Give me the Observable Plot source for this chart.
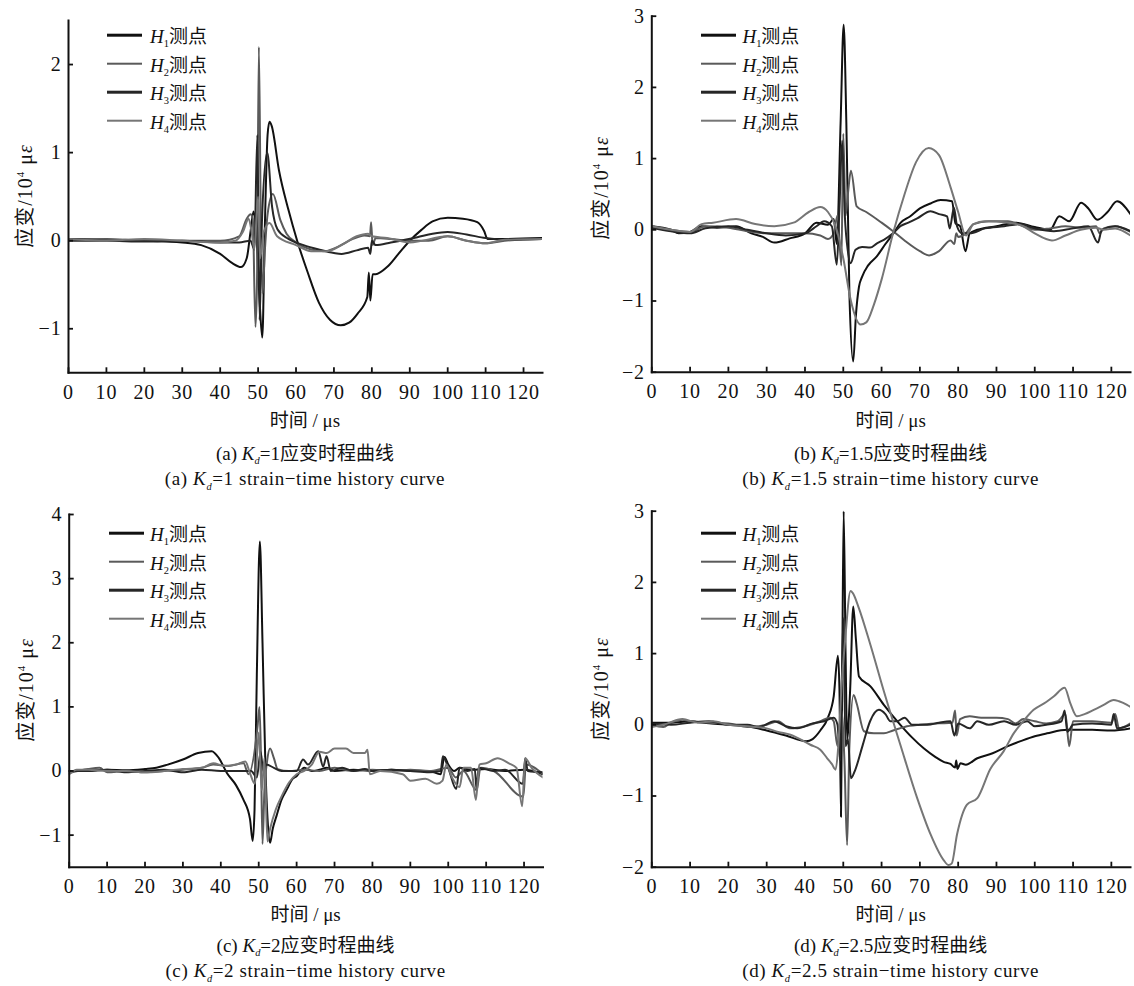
<!DOCTYPE html>
<html><head><meta charset="utf-8">
<script src="https://cdn.jsdelivr.net/npm/d3@7"></script>
<script src="https://cdn.jsdelivr.net/npm/@observablehq/plot@0.6"></script>
<style>
body{margin:0;background:#fff;}
#root{position:relative;width:1134px;height:986px;overflow:hidden;font-family:"Liberation Serif","Noto Sans CJK SC",serif;color:#111;}
.panel{position:absolute;}
.txt{position:absolute;transform:translate(-50%,-50%);white-space:nowrap;font-size:19px;}
.ylab{position:absolute;white-space:nowrap;transform:translate(-50%,-50%) rotate(-90deg);font-size:20px;letter-spacing:1px;}
.leg-line{position:absolute;height:2.6px;transform:translateY(-50%);}
.leg-text{position:absolute;transform:translateY(-50%);font-size:19px;white-space:nowrap;}
sub{font-size:0.55em;vertical-align:-0.4em;}
sup{font-size:0.55em;vertical-align:0.7em;}
</style></head><body><div id="root"></div>
<script>
// ---------- data ----------
const xTicks = [0,10,20,30,40,50,60,70,80,90,100,110,120];
const xDomain = [0,125];
const seriesNames = ["H1","H2","H3","H4"];
const seriesColors = ["#111111","#5a5a5a","#262626","#767676"];

// (a) Kd = 1
const yDomA = [-1.5,2.5], yTicksA = [-1,0,1,2];
const a_H1 = [[0,0.02],[10,0.01],[20,0.0],[30,-0.02],[35,-0.05],[40,-0.15],[43,-0.25],[45.5,-0.3],[47,-0.2],[48,0.1],[48.8,0.33],[49.5,0.1],[50.3,-0.6],[51.1,-1.1],[51.8,0.2],[52.5,1.2],[53,1.35],[53.6,1.3],[55.5,0.8],[58,0.35],[60.3,0],[63,-0.35],[66,-0.7],[69,-0.9],[71.8,-0.96],[74,-0.93],[76.2,-0.83],[78.8,-0.64],[79.2,-0.36],[79.6,-0.68],[80.2,-0.38],[81,-0.38],[84,-0.3],[87,-0.15],[90,0],[93,0.12],[96,0.22],[100,0.26],[104,0.25],[107.8,0.21],[109.6,0.11],[110.5,0.02],[115,0.02],[125,0.03]];
const a_H2 = [[0,0.01],[10,0.02],[20,0.0],[30,0.0],[40,0.0],[45,0.05],[47,0.25],[48,0.3],[48.6,0.25],[49.3,-0.98],[49.7,-0.5],[50.2,2.2],[50.7,0.3],[51.2,-0.6],[51.8,-0.1],[52.5,0.3],[53.9,0.53],[55.9,0.23],[57.5,0.08],[60,-0.02],[64,-0.1],[67.5,-0.12],[71,-0.07],[75,0.02],[78,0.06],[79.5,0.05],[79.8,0.21],[80.2,-0.05],[81,0.03],[85,0.02],[90,0.0],[95,0.0],[100,0.05],[105,0.0],[110,-0.03],[115,0.0],[125,0.02]];
const a_H3 = [[0,0.0],[10,0.0],[20,-0.01],[30,0],[40,-0.02],[45,-0.02],[48,0.0],[49,-0.1],[49.8,1.2],[50.4,-0.9],[51,0.2],[52.4,1.0],[53.7,0.38],[55.1,0.13],[58,0.02],[62,-0.05],[66,-0.1],[70,-0.14],[72,-0.15],[76,-0.11],[79,-0.08],[79.6,-0.15],[80,0.0],[81,-0.05],[85,-0.02],[92,0.04],[96,0.08],[100,0.1],[105,0.07],[110,0.03],[115,0.01],[125,0.02]];
const a_H4 = [[0,0.02],[10,0.0],[20,0.02],[30,0.0],[40,-0.02],[44,0.0],[46,0.1],[47.5,0.25],[48.3,0.1],[49,-0.1],[50,0.5],[50.5,-0.2],[51.5,0.1],[53,0.2],[55,0.05],[60,-0.05],[64,-0.12],[68,-0.12],[72,-0.05],[76,0.05],[79,0.08],[80,0.05],[84,0.03],[90,-0.02],[100,0.05],[105,0.0],[110,-0.03],[115,0.01],[125,0.02]];

// (b) Kd = 1.5
const yDomB = [-2,3], yTicksB = [-2,-1,0,1,2,3];
const b_H1 = [[0,0.05],[5,0.0],[7,-0.05],[10,-0.03],[13,0.05],[17,0.03],[22,0.05],[26,-0.05],[29,-0.1],[32,-0.18],[36,-0.12],[40,-0.05],[43,0.1],[46,0.07],[47.5,0.15],[48.3,-0.2],[49.3,1.5],[50.1,2.88],[50.8,1.5],[51.6,-0.9],[52.6,-1.85],[53.3,-1.2],[54.1,-0.8],[54.9,-0.66],[56.5,-0.5],[58.8,-0.37],[61,-0.2],[63.2,-0.04],[65,0.1],[67.5,0.19],[70,0.3],[72.8,0.37],[75.4,0.42],[78.4,0.4],[79.3,0.09],[80.5,0.05],[81.9,-0.3],[83,-0.05],[85,0],[90,0.05],[95,0.1],[100,0.04],[104,0.0],[106.4,0.19],[109,0.12],[112.1,0.38],[114,0.3],[116.3,0.14],[119,0.25],[121.5,0.4],[125,0.22]];
const b_H2 = [[0,0.05],[5,0.0],[10,-0.03],[14,0.05],[20,0.03],[25,-0.02],[30,-0.05],[35,-0.05],[40,-0.05],[44,-0.08],[46,-0.13],[47.5,-0.05],[48.5,0.2],[49.5,-0.5],[50,1.35],[50.6,0.2],[51.2,0.5],[52,0.83],[53.5,0.33],[56,0.25],[60,0.1],[63,-0.02],[66,-0.15],[70,-0.3],[72.4,-0.36],[75,-0.3],[78,-0.15],[79,-0.2],[79.5,-0.05],[80,-0.1],[82,-0.05],[84,0.08],[88,0.12],[93,0.12],[97,0.05],[100,0.0],[104,0.02],[108,0.05],[112,0.03],[116,0.05],[117,-0.05],[118,0.02],[121,0.05],[125,-0.03]];
const b_H3 = [[0,0.03],[5,-0.02],[10,-0.05],[14,0.02],[20,0.05],[25,0.0],[30,-0.05],[35,-0.08],[40,-0.05],[43,0.05],[45,0.12],[47,0.05],[48.3,-0.49],[49,0.3],[49.7,1.25],[50.4,0.2],[51.2,-0.3],[51.9,-0.47],[53.2,-0.28],[54.9,-0.24],[57,-0.25],[58.8,-0.19],[60.6,-0.14],[63,-0.05],[64.9,0.05],[67,0.1],[69.3,0.16],[72.8,0.26],[75,0.22],[77.1,0.19],[77.8,0.02],[78.9,0.31],[79.7,0.05],[81,-0.05],[83,-0.05],[87,0.02],[92,0.05],[96,0.08],[100,0.02],[105,-0.02],[110,0.02],[114,0.05],[116.5,-0.18],[117.5,0.0],[121,0.05],[125,-0.02]];
const b_H4 = [[0,0.05],[5,0.0],[10,-0.03],[13,0.08],[16,0.1],[22,0.15],[27,0.08],[32,0.05],[37,0.1],[41,0.25],[44,0.32],[46,0.25],[48,0.05],[50,-0.4],[52,-1.0],[54.5,-1.33],[56,-1.3],[58,-1.05],[60,-0.7],[63,-0.05],[66,0.5],[69,0.95],[72.3,1.15],[75,1.05],[78,0.6],[80,0.25],[82,-0.08],[84,0.08],[87,0.12],[93,0.1],[97,0.05],[100,-0.05],[104.5,-0.15],[108,-0.08],[112,0.0],[116,0.03],[118,0.0],[121,0.02],[125,-0.08]];

// (c) Kd = 2
const yDomC = [-1.5,4], yTicksC = [-1,0,1,2,3,4];
const c_H1 = [[0,0],[5,0.0],[10,0.02],[15,0.01],[20,0.03],[23,0.05],[26,0.1],[30,0.18],[34,0.28],[37.6,0.31],[39.5,0.2],[41.6,-0.03],[44,-0.22],[45.9,-0.44],[47.7,-0.75],[48.4,-1.09],[48.9,-0.6],[49.5,1.5],[50.3,3.58],[51,2.0],[51.8,0.0],[52.5,-0.9],[53,-1.12],[53.7,-0.9],[54.7,-0.7],[56,-0.45],[57.4,-0.29],[59,-0.12],[60,-0.08],[62,0.05],[64,0.0],[66,0.02],[68,0.05],[70,0.0],[75,0.02],[80,0.0],[85,0.02],[90,0.0],[95,0.0],[98,-0.05],[99,0.22],[100,0.1],[101.5,0.0],[103,0.05],[106,0.02],[110,0.03],[115,0.0],[120,0.02],[125,-0.05]];
const c_H2 = [[0,-0.03],[5,0.03],[8,0.05],[10,-0.02],[15,0.0],[20,-0.02],[25,0.0],[30,0.02],[35,0.05],[38,0.1],[42,0.08],[46,0.12],[47.3,-0.05],[49.7,0.7],[50.2,1.0],[50.6,0.2],[51,-1.14],[51.5,-0.3],[52.2,0.15],[53,0.35],[54,0.2],[55,0.03],[58,0.0],[62,0.02],[66,0.0],[70,0.05],[75,0.0],[80,0.02],[85,0.0],[90,0.02],[95,0.0],[100,0.05],[102,-0.1],[104,0.0],[107.5,-0.3],[108.5,0.05],[112,0.0],[119.8,-0.4],[120.5,0.1],[125,-0.05]];
const c_H3 = [[0,0.0],[5,0.0],[10,0.02],[15,-0.02],[20,0.0],[25,0.02],[30,-0.02],[35,0.02],[40,0.0],[45,0.0],[48,0.0],[49.5,-0.1],[50.5,0.3],[51.2,0.0],[52,0.1],[54,0.05],[56,0.0],[60,0.0],[61.7,0.18],[63,0.1],[65.7,0.31],[67,0.07],[67.9,0.23],[69,0.0],[72,0.05],[75,0.0],[78,0.03],[80,0.0],[85,0.02],[90,0.0],[95,-0.02],[98,0.0],[98.6,0.23],[100,0.05],[102.1,-0.28],[103,0.05],[105,0.0],[107,0.03],[107.5,-0.3],[108,0.05],[112,0.0],[115,0.02],[119.7,-0.2],[120.3,0.2],[121,0.0],[125,-0.02]];
const c_H4 = [[0,-0.05],[2,0.02],[5,0.02],[10,0.0],[15,0.0],[20,-0.02],[25,0.0],[30,0.03],[35,0.05],[38,0.12],[41,0.08],[44,0.1],[46.5,0.15],[47.5,0.0],[49,-0.2],[50,0.6],[50.8,-0.3],[51.5,0.2],[52.3,-1.1],[53,-0.9],[54.5,-0.6],[56,-0.4],[58,-0.18],[60,-0.05],[62,0.0],[64,0.1],[66,0.3],[68,0.28],[70,0.35],[73,0.35],[75,0.28],[78,0.28],[78.7,0.33],[79.3,-0.05],[82,0.0],[88,-0.05],[90,-0.15],[94,-0.12],[97,-0.2],[98.5,-0.15],[99.5,0.1],[101,-0.1],[103,-0.25],[104,0.05],[106,0.05],[107.3,-0.45],[108.2,0.1],[110,0.12],[113,0.2],[116,0.12],[118,0.05],[119.5,-0.55],[120.3,0.2],[122,0.05],[125,-0.1]];

// (d) Kd = 2.5
const yDomD = [-2,3], yTicksD = [-2,-1,0,1,2,3];
const d_H1 = [[0,0.03],[5,0.03],[10,0.05],[15,0.02],[20,0.0],[25,-0.02],[30,-0.08],[35,-0.15],[40.3,-0.23],[42,-0.2],[44,-0.08],[46,0.1],[47.5,0.4],[48.6,0.97],[49,0.5],[49.4,-1.29],[49.7,0.5],[50.1,3.0],[50.6,1.0],[51,-0.2],[51.8,0.5],[52.6,1.66],[53.3,1.2],[54.1,0.68],[57.1,0.54],[60.6,0.28],[64.9,0.0],[68,-0.18],[71,-0.33],[74,-0.45],[76.2,-0.52],[78,-0.55],[79.2,-0.6],[79.5,-0.5],[79.8,-0.62],[80.6,-0.54],[82,-0.56],[85,-0.47],[89,-0.4],[93,-0.3],[96.3,-0.23],[100,-0.16],[103.2,-0.12],[108.5,-0.07],[115,-0.07],[120,-0.08],[125,-0.05]];
const d_H2 = [[0,0.0],[3,-0.03],[5,0.03],[8,0.07],[10,0.05],[15,0.03],[20,0.02],[25,-0.03],[28,-0.02],[30,0.0],[33,0.05],[36,-0.05],[40,-0.02],[44,0.05],[46.5,0.1],[47.5,0.05],[48.5,-0.3],[49.5,0.2],[50.3,-0.5],[51,-1.69],[51.6,-0.3],[52.7,0.42],[53.5,0.3],[55.4,-0.09],[58,-0.12],[60.6,-0.12],[63,-0.08],[66,-0.03],[70,0.0],[75,0.02],[78.5,0.03],[79.2,0.2],[79.6,-0.15],[80.5,0.08],[83,0.12],[86,0.1],[90,0.1],[93,0.08],[95,0.02],[97,0.08],[100,0.05],[103,0.02],[106,0.05],[108,0.15],[109,-0.3],[110,0.05],[115,0.05],[120,0.03],[121,0.15],[122,-0.05],[125,0.02]];
const d_H3 = [[0,0.02],[5,0.0],[10,0.03],[15,0.05],[20,0.0],[25,0.0],[28,-0.03],[32,0.05],[35,-0.02],[38,-0.05],[42,0.02],[45,0.05],[47.5,0.1],[48.5,0.0],[49.2,-0.5],[50,1.5],[50.6,-0.3],[51.2,-0.2],[52,-0.75],[53,-0.65],[55,-0.3],[57,0.05],[59.3,0.21],[61,0.15],[62.3,0.05],[64,0.05],[66,0.1],[68,0.0],[72,0.0],[75,0.03],[78,0.05],[79,-0.15],[80,0.02],[83,-0.05],[85,0.05],[88,0.0],[92,0.05],[95,0.0],[98,0.05],[100,-0.02],[103,0.0],[107,0.05],[107.8,0.2],[108.5,-0.1],[110,0.0],[115,0.02],[120,0.0],[120.6,0.15],[121.5,-0.05],[125,0.0]];
const d_H4 = [[0,-0.03],[3,0.0],[8,0.08],[12,0.03],[16,0.05],[20,0.0],[25,-0.02],[30,-0.05],[33,-0.1],[36.2,-0.14],[41.4,-0.28],[44,-0.35],[45.8,-0.47],[47,-0.55],[48,-0.63],[48.7,-0.3],[49.5,0.5],[50.5,1.2],[51.9,1.88],[52.5,1.85],[54,1.65],[57.1,1.12],[60.6,0.47],[64.9,-0.28],[69.3,-1.03],[72.8,-1.54],[76.2,-1.9],[77.5,-1.97],[78.3,-1.95],[79.7,-1.54],[82.3,-1.12],[85,-1.03],[88.4,-0.62],[91.9,-0.37],[94.5,-0.12],[97,0.05],[99.7,0.21],[103,0.32],[105,0.4],[107.8,0.52],[109.3,0.3],[111,0.12],[113,0.15],[115.4,0.21],[118,0.28],[120.6,0.35],[122,0.33],[124.1,0.28],[125,0.25]];

const captionsCN = ["(a) <i>K</i><sub><i>d</i></sub>=1应变时程曲线","(b) <i>K</i><sub><i>d</i></sub>=1.5应变时程曲线","(c) <i>K</i><sub><i>d</i></sub>=2应变时程曲线","(d) <i>K</i><sub><i>d</i></sub>=2.5应变时程曲线"];
const captionsEN = ["(a) <i>K</i><sub><i>d</i></sub>=1 strain−time history curve","(b) <i>K</i><sub><i>d</i></sub>=1.5 strain−time history curve","(c) <i>K</i><sub><i>d</i></sub>=2 strain−time history curve","(d) <i>K</i><sub><i>d</i></sub>=2.5 strain−time history curve"];
const xLabel = "时间 / μs";
const yLabelHTML = "应变/10<sup>4</sup> μ<i>ε</i>";

// ---------- layout ----------
const panels = [
  {left:0,   top:0,   w:567, h:410, mL:68,   mR:25,  mT:20,   mB:37.7, yDom:yDomA, yTicks:yTicksA, series:[a_H1,a_H2,a_H3,a_H4], ylab:[23,196],  leg:[107,150,35],   titleY:418, cap1Y:452, cap2Y:480},
  {left:567, top:0,   w:567, h:410, mL:84.3, mR:4,   mT:15.7, mB:38.3, yDom:yDomB, yTicks:yTicksB, series:[b_H1,b_H2,b_H3,b_H4], ylab:[599,188], leg:[700.8,742.4,35], titleY:418, cap1Y:452, cap2Y:480},
  {left:0,   top:490, w:567, h:410, mL:68.7, mR:24.5,mT:24,   mB:33.3, yDom:yDomC, yTicks:yTicksC, series:[c_H1,c_H2,c_H3,c_H4], ylab:[23.5,690], leg:[108.5,150,533.3], titleY:912, cap1Y:944, cap2Y:972},
  {left:567, top:490, w:567, h:410, mL:84.3, mR:4,   mT:20.7, mB:33.3, yDom:yDomD, yTicks:yTicksD, series:[d_H1,d_H2,d_H3,d_H4], ylab:[598.6,689], leg:[700.8,742.4,533.3], titleY:912, cap1Y:944, cap2Y:972}
];

const root = document.getElementById("root");
function addDiv(cls, html, style) {
  const d = document.createElement("div");
  d.className = cls; d.innerHTML = html;
  Object.assign(d.style, style);
  root.appendChild(d);
  return d;
}
const fmt = d => (d < 0 ? "\u2212" + Math.abs(d) : String(d));

panels.forEach((p, i) => {
  const svg = Plot.plot({
    width: p.w, height: p.h,
    marginLeft: p.mL, marginRight: p.mR, marginTop: p.mT, marginBottom: p.mB,
    x: {domain: xDomain},
    y: {domain: p.yDom},
    style: {fontFamily: '"Liberation Serif", serif', fontSize: "20px", color: "#111", background: "transparent", overflow: "visible", letterSpacing: "0.8px"},
    marks: [
      ...p.series.map((s, k) => Plot.line(s, {x: d => d[0], y: d => d[1], stroke: seriesColors[k], strokeWidth: 2, curve: "monotone-x", clip: true})),
      Plot.axisX({ticks: xTicks, tickSize: -5, tickPadding: 17, strokeWidth: 1.8, label: null, tickFormat: fmt}),
      Plot.axisY({ticks: p.yTicks, tickSize: -5, tickPadding: 12, strokeWidth: 1.8, label: null, tickFormat: fmt}),
      Plot.frame({anchor: "left", strokeWidth: 2}),
      Plot.frame({anchor: "bottom", strokeWidth: 2})
    ]
  });
  const wrap = document.createElement("div");
  wrap.className = "panel";
  wrap.style.left = p.left + "px"; wrap.style.top = p.top + "px";
  wrap.appendChild(svg);
  root.appendChild(wrap);

  const cx = p.left + p.mL + (p.w - p.mL - p.mR) / 2;
  addDiv("txt", xLabel, {left: cx + "px", top: p.titleY + "px"});
  addDiv("txt", captionsCN[i], {left: cx + "px", top: p.cap1Y + "px", fontSize: "19px"});
  addDiv("txt", captionsEN[i], {left: cx + "px", top: p.cap2Y + "px", fontSize: "19px", letterSpacing: "0.6px"});
  addDiv("ylab", yLabelHTML, {left: p.ylab[0] + "px", top: p.ylab[1] + "px"});

  seriesNames.forEach((n, k) => {
    const y = p.leg[2] + k * 28.5;
    addDiv("leg-line", "", {left: p.leg[0] + "px", top: y + "px", width: "35px", background: seriesColors[k]});
    addDiv("leg-text", `<i>H</i><sub>${n.slice(1)}</sub>测点`, {left: p.leg[1] + "px", top: y + "px"});
  });
});
</script></body></html>
